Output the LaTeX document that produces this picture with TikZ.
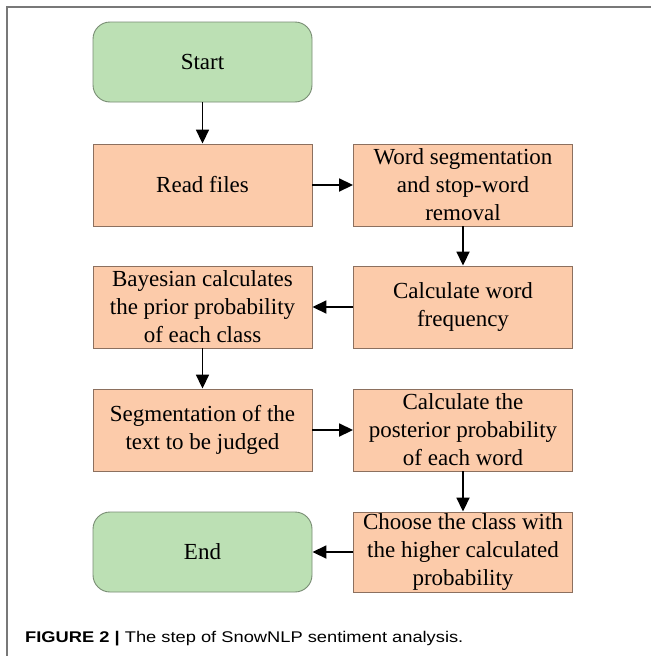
\documentclass[tikz,border=0pt]{standalone}
\usepackage{fontspec}
\setmainfont{Liberation Serif}
\newfontfamily\capfont{Liberation Sans}
\usetikzlibrary{arrows.meta}
\definecolor{greenfill}{RGB}{188,224,180}
\definecolor{greenline}{RGB}{120,140,115}
\definecolor{orangefill}{RGB}{252,203,170}
\definecolor{orangeline}{RGB}{140,112,95}
\definecolor{framegray}{RGB}{120,120,120}
\tikzset{
  procbox/.style={draw=orangeline, fill=orangefill, line width=0.9pt,
    minimum width=219pt, minimum height=82pt, inner sep=0pt,
    align=center,
    font=\fontsize{23}{28}\selectfont},
  termbox/.style={procbox, draw=greenline, fill=greenfill, rounded corners=17pt,
    minimum height=80pt},
  flow/.style={line width=1.8pt, -{Triangle[length=14pt,width=13pt]}}
}
\begin{document}
\begin{tikzpicture}[x=1pt,y=-1pt]
\useasboundingbox (0,0) rectangle (651,656);
\draw[framegray, line width=1.2pt] (7,656) -- (7,7) -- (651,7);
\node[termbox] (start) at (202.5,62) {Start};
\node[procbox] (read) at (202.5,185) {Read files};
\node[procbox] (seg) at (463,185) {Word segmentation\\and stop-word\\removal};
\node[procbox] (freq) at (463,307) {Calculate word\\frequency};
\node[procbox] (bayes) at (202.5,307) {Bayesian calculates\\the prior probability\\of each class};
\node[procbox] (judge) at (202.5,430) {Segmentation of the\\text to be judged};
\node[procbox] (post) at (463,430) {Calculate the\\posterior probability\\of each word};
\node[termbox] (end) at (202.5,552) {End};
\node[procbox, minimum height=80pt] (choose) at (463,552) {Choose the class with\\the higher calculated\\probability};
\draw[flow] (start.south) -- (read.north);
\draw[flow] (read.east) -- (seg.west);
\draw[flow] (seg.south) -- (freq.north);
\draw[flow] (freq.west) -- (bayes.east);
\draw[flow] (bayes.south) -- (judge.north);
\draw[flow] (judge.east) -- (post.west);
\draw[flow] (post.south) -- (choose.north);
\draw[flow] (choose.west) -- (end.east);
\node[anchor=base west, inner sep=0pt, font=\capfont\fontsize{15.5}{18}\selectfont] (caption) at (25,642)
  {\scalebox{1.18}[1]{\textbf{FIGURE 2 |} The step of SnowNLP sentiment analysis.}};
\end{tikzpicture}
\end{document}
